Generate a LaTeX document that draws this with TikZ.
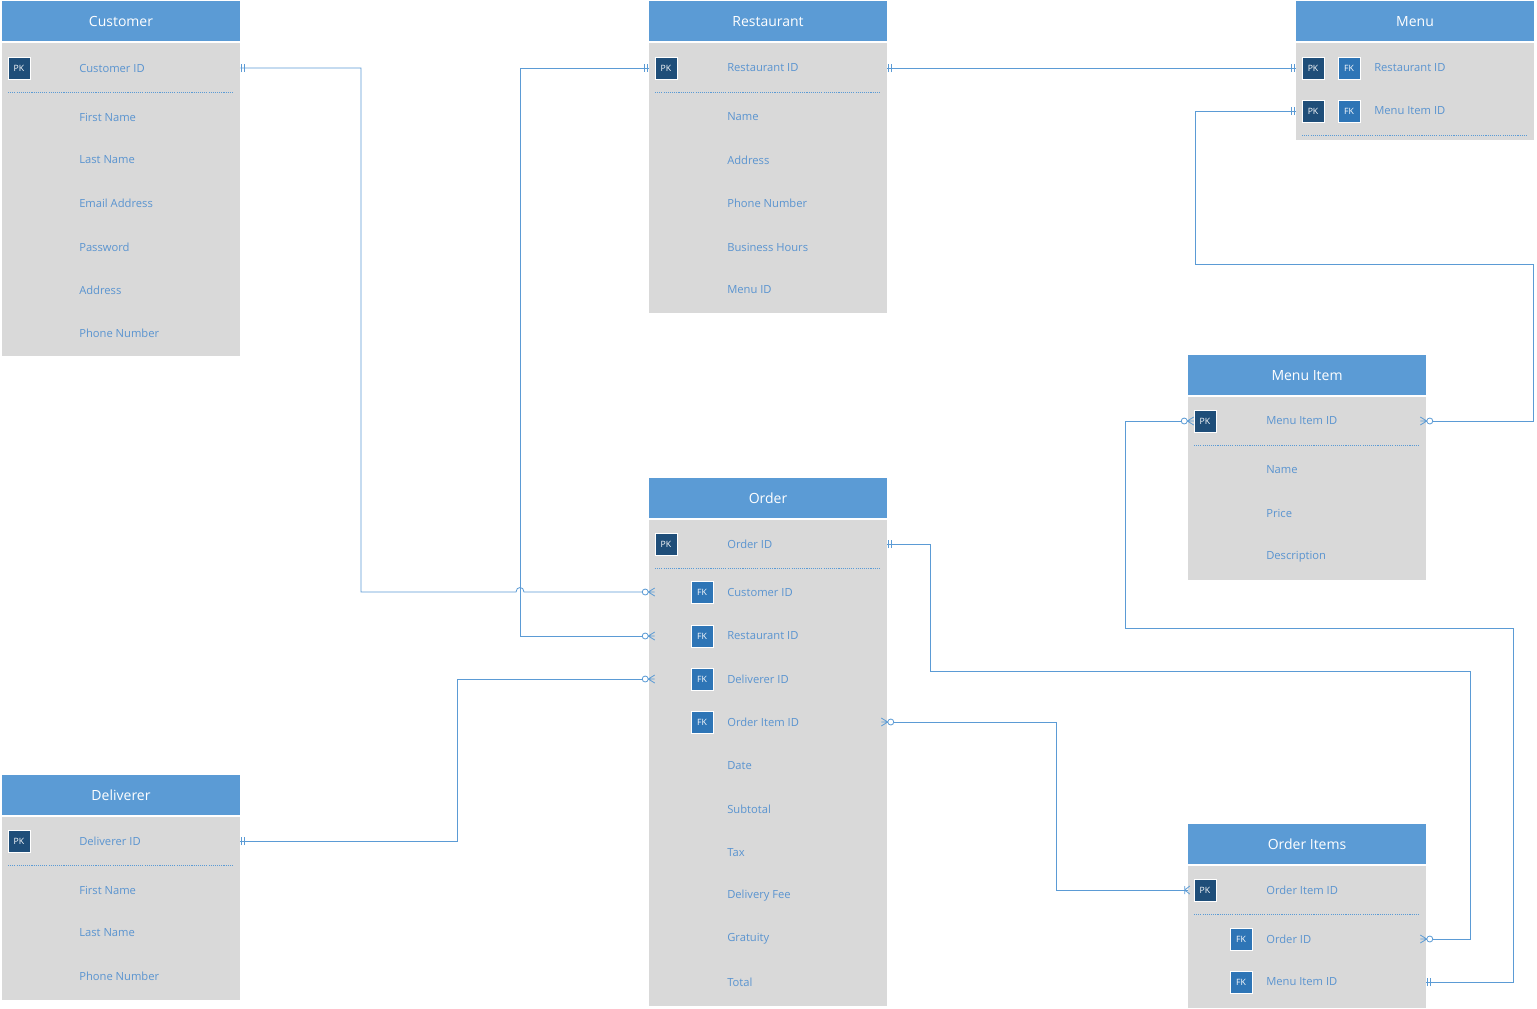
\documentclass[tikz,border=0pt]{standalone}
\usepackage{fontspec}
\setmainfont{Open Sans}
\usetikzlibrary{fit}
\definecolor{hdrc}{HTML}{5B9BD5}
\definecolor{bodyc}{HTML}{D9D9D9}
\definecolor{fldc}{HTML}{5A94D0}
\definecolor{pkc}{HTML}{1F4E79}
\definecolor{fkc}{HTML}{2E75B6}
\definecolor{lnc}{HTML}{5B9BD5}
\tikzset{
  hdrbox/.style={fill=hdrc, inner sep=0pt},
  ttl/.style={text=white, inner sep=0pt, font=\fontsize{10.5}{12}\selectfont},
  bodybox/.style={fill=bodyc, inner sep=0pt},
  fld/.style={anchor=west, inner sep=0pt, text=fldc, font=\fontsize{8.4}{10}\selectfont},
  keybox/.style={minimum size=16.5pt, inner sep=0pt, draw=white, line width=0.6pt, text=white, font=\fontsize{6.5}{7}\selectfont},
  pkbox/.style={keybox, fill=pkc},
  fkbox/.style={keybox, fill=fkc},
  sepline/.style={draw=lnc, line width=0.4pt, dash pattern=on 0.8pt off 0.8pt},
  conn/.style={draw=lnc, line width=0.6pt},
  one/.pic={\draw[conn] (-1.5,-4)--(-1.5,4) (-4.5,-4)--(-4.5,4);},
  zm/.pic={\draw[conn] (-0.5,0)--(6,-4) (-0.5,0)--(6,4) (-0.5,0)--(6,0); \draw[conn, fill=white] (-3.5,0) circle[radius=3];},
  onemany/.pic={\draw[conn] (-3,-4)--(-3,4) (-3,0)--(2,-4) (-3,0)--(2,4);}
}
\begin{document}
\begin{tikzpicture}[x=0.75pt, y=-0.75pt]
\useasboundingbox[fill=white] (0,0) rectangle (1537,1008);

% ---------- Customer ----------
\node[hdrbox, fit={(2,1)(240,41)}] (cH) {};
\node[ttl] (cT) at (121,21.5) {Customer};
\node[bodybox, fit={(2,42.5)(240,356)}] (cB) {};
\node[pkbox] (cPK) at (19,68) {PK};
\node[fld] (cID) at (79,68) {Customer ID};
\draw[sepline] (8,92) -- (234,92);
\node[fld] (cF1) at (79,117) {First Name};
\node[fld] (cF2) at (79,160) {Last Name};
\node[fld] (cF3) at (79,203) {Email Address};
\node[fld] (cF4) at (79,247) {Password};
\node[fld] (cF5) at (79,290) {Address};
\node[fld] (cF6) at (79,333) {Phone Number};

% ---------- Restaurant ----------
\node[hdrbox, fit={(649,1)(887,41)}] (rH) {};
\node[ttl] (rT) at (768,21.5) {Restaurant};
\node[bodybox, fit={(649,42.5)(887,313)}] (rB) {};
\node[pkbox] (rPK) at (666,68) {PK};
\node[fld] (rID) at (727,68) {Restaurant ID};
\draw[sepline] (655,92) -- (881,92);
\node[fld] (rF1) at (727,117) {Name};
\node[fld] (rF2) at (727,160) {Address};
\node[fld] (rF3) at (727,203) {Phone Number};
\node[fld] (rF4) at (727,247) {Business Hours};
\node[fld] (rF5) at (727,290) {Menu ID};

% ---------- Menu ----------
\node[hdrbox, fit={(1296,1)(1534,41)}] (mH) {};
\node[ttl] (mT) at (1415,21.5) {Menu};
\node[bodybox, fit={(1296,42.5)(1534,140)}] (mB) {};
\node[pkbox] (mPK1) at (1313,68) {PK};
\node[fkbox] (mFK1) at (1349,68) {FK};
\node[fld] (mRID) at (1374,68) {Restaurant ID};
\node[pkbox] (mPK2) at (1313,111) {PK};
\node[fkbox] (mFK2) at (1349,111) {FK};
\node[fld] (mMID) at (1374,111) {Menu Item ID};
\draw[sepline] (1302,135) -- (1528,135);

% ---------- Menu Item ----------
\node[hdrbox, fit={(1188,355)(1426,395)}] (miH) {};
\node[ttl] (miT) at (1307,375.5) {Menu Item};
\node[bodybox, fit={(1188,396.5)(1426,580)}] (miB) {};
\node[pkbox] (miPK) at (1205,421) {PK};
\node[fld] (miID) at (1266,421) {Menu Item ID};
\draw[sepline] (1194,445) -- (1420,445);
\node[fld] (miF1) at (1266,470) {Name};
\node[fld] (miF2) at (1266,513) {Price};
\node[fld] (miF3) at (1266,557) {Description};

% ---------- Order ----------
\node[hdrbox, fit={(649,478)(887,518)}] (oH) {};
\node[ttl] (oT) at (768,498.5) {Order};
\node[bodybox, fit={(649,519.5)(887,1006)}] (oB) {};
\node[pkbox] (oPK) at (666,544) {PK};
\node[fld] (oID) at (727,544) {Order ID};
\draw[sepline] (655,568) -- (881,568);
\node[fkbox] (oFK1) at (702,592) {FK};
\node[fld] (oCust) at (727,592) {Customer ID};
\node[fkbox] (oFK2) at (702,636) {FK};
\node[fld] (oRest) at (727,636) {Restaurant ID};
\node[fkbox] (oFK3) at (702,679) {FK};
\node[fld] (oDel) at (727,679) {Deliverer ID};
\node[fkbox] (oFK4) at (702,722) {FK};
\node[fld] (oOIID) at (727,722) {Order Item ID};
\node[fld] (oF1) at (727,766) {Date};
\node[fld] (oF2) at (727,809) {Subtotal};
\node[fld] (oF3) at (727,853) {Tax};
\node[fld] (oF4) at (727,896) {Delivery Fee};
\node[fld] (oF5) at (727,939) {Gratuity};
\node[fld] (oF6) at (727,982) {Total};

% ---------- Deliverer ----------
\node[hdrbox, fit={(2,775)(240,815)}] (dH) {};
\node[ttl] (dT) at (121,795.5) {Deliverer};
\node[bodybox, fit={(2,816.5)(240,1000)}] (dB) {};
\node[pkbox] (dPK) at (19,841) {PK};
\node[fld] (dID) at (79,841) {Deliverer ID};
\draw[sepline] (8,865) -- (234,865);
\node[fld] (dF1) at (79,890) {First Name};
\node[fld] (dF2) at (79,933) {Last Name};
\node[fld] (dF3) at (79,976) {Phone Number};

% ---------- Order Items ----------
\node[hdrbox, fit={(1188,824)(1426,864)}] (oiH) {};
\node[ttl] (oiT) at (1307,844.5) {Order Items};
\node[bodybox, fit={(1188,865.5)(1426,1008)}] (oiB) {};
\node[pkbox] (oiPK) at (1205,890) {PK};
\node[fld] (oiID) at (1266,890) {Order Item ID};
\draw[sepline] (1194,914) -- (1420,914);
\node[fkbox] (oiFK1) at (1241,939) {FK};
\node[fld] (oiOID) at (1266,939) {Order ID};
\node[fkbox] (oiFK2) at (1241,982) {FK};
\node[fld] (oiMID) at (1266,982) {Menu Item ID};

% ---------- Connectors ----------
% Customer -> Order (with line jump)
\draw[conn] (cB.east |- cID) -| (361,592) -- (516,592) .. controls (516,586) and (524,586) .. (524,592) -- (oB.west |- oCust);
\pic[rotate=180] at (cB.east |- cID) {one};
\pic at (oB.west |- oCust) {zm};
% Restaurant -> Order
\draw[conn] (rB.west |- rID) -| (520,636) -- (oB.west |- oRest);
\pic at (rB.west |- rID) {one};
\pic at (oB.west |- oRest) {zm};
% Deliverer -> Order
\draw[conn] (dB.east |- dID) -| (457,679) -- (oB.west |- oDel);
\pic[rotate=180] at (dB.east |- dID) {one};
\pic at (oB.west |- oDel) {zm};
% Restaurant -> Menu
\draw[conn] (rB.east |- rID) -- (mB.west |- mRID);
\pic[rotate=180] at (rB.east |- rID) {one};
\pic at (mB.west |- mRID) {one};
% Menu -> Menu Item
\draw[conn] (mB.west |- mMID) -| (1195,264) -| (1533,421) -- (miB.east |- miID);
\pic at (mB.west |- mMID) {one};
\pic[rotate=180] at (miB.east |- miID) {zm};
% Order -> Order Items (Order ID)
\draw[conn] (oB.east |- oID) -| (930,671) -| (1470,939) -- (oiB.east |- oiOID);
\pic[rotate=180] at (oB.east |- oID) {one};
\pic[rotate=180] at (oiB.east |- oiOID) {zm};
% Order (Order Item ID) -> Order Items
\draw[conn] (oB.east |- oOIID) -| (1056,890) -- (oiB.west |- oiID);
\pic[rotate=180] at (oB.east |- oOIID) {zm};
\pic at (oiB.west |- oiID) {onemany};
% Menu Item -> Order Items (Menu Item ID)
\draw[conn] (miB.west |- miID) -| (1125,628) -| (1513,982) -- (oiB.east |- oiMID);
\pic at (miB.west |- miID) {zm};
\pic[rotate=180] at (oiB.east |- oiMID) {one};
\end{tikzpicture}
\end{document}
